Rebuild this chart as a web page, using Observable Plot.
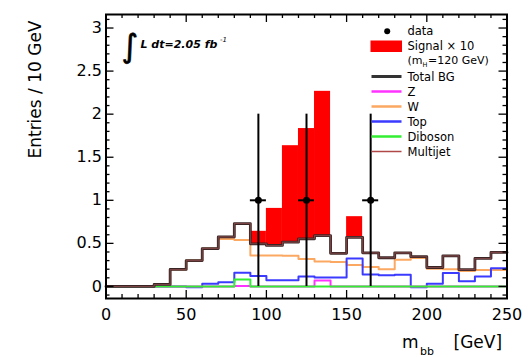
<!DOCTYPE html>
<html><head><meta charset="utf-8">
<script src="https://cdn.jsdelivr.net/npm/d3@7"></script>
<script src="https://cdn.jsdelivr.net/npm/@observablehq/plot@0.6"></script>
<style>html,body{margin:0;padding:0;background:#fff;} #chart{width:530px;height:357px;overflow:hidden;}</style>
</head><body><div id="chart"></div>
<script>
// ---- data (bins of 10 GeV, m_bb from 0 to 250) ----
const binLow   = [0,10,20,30,40,50,60,70,80,90,100,110,120,130,140,150,160,170,180,190,200,210,220,230,240];
const binWidth = 10;
const totalBG  = [0,0,0,0.023,0.197,0.30,0.44,0.575,0.73,0.495,0.476,0.514,0.553,0.59,0.385,0.57,0.39,0.333,0.39,0.345,0.22,0.355,0.195,0.325,0.395];
const multijet = [0,0,0,0.023,0.197,0.30,0.44,0.575,0.73,0.495,0.476,0.514,0.553,0.59,0.385,0.57,0.39,0.333,0.39,0.345,0.22,0.355,0.195,0.325,0.395];
const wBG      = [0,0,0,0.02,0.197,0.30,0.44,0.55,0.54,0.36,0.36,0.355,0.32,0.29,0.285,0.25,0.225,0.20,0.31,0.33,0.205,0.20,0.178,0.19,0.19];
const topBG    = [0,0,0,0,0,-0.01,0.03,0.05,0.16,0.12,0.072,0.072,0.116,0.105,0.105,0.325,0.14,0.13,0.135,-0.01,0.03,0.155,0.06,0.115,0.21];
const zBG      = [0,0,0,0,0,0,0,0,0.005,0,0,0,0,0.07,0,0,0,0,0,0,0,0,0,0,0];
const diboson  = [0,0,0,0,0,0,0,0,0.08,0,0,0,0,0,0,0,0,0,0,0,0,0,0,0,0];
const signalX10= [0,0,0,0,0,0,0,0,0,0.145,0.43,1.12,1.28,1.675,0,0.24,0,0,0,0,0,0,0,0,0];
const dataX    = [95,125,165];
const dataY    = [1,1,1];
const dataErr  = [1,1,1];
const xTickLabels = [0,50,100,150,200,250];
const yTickLabels = [0,0.5,1,1.5,2,2.5,3];

const legendItems = [
  {label:"Total BG", color:"#333333", w:3},
  {label:"Z",        color:"#ff33ff", w:2.5},
  {label:"W",        color:"#fba862", w:2.5},
  {label:"Top",      color:"#3b3bff", w:2.5},
  {label:"Diboson",  color:"#33ee33", w:2.5},
  {label:"Multijet", color:"#b04848", w:1.5}
];

// ---- geometry ----
const W = 530, H = 357;
const mL = 105.5, mR = 23.5, mT = 14, mB = 59;
const fW = W - mL - mR, fH = H - mT - mB;

function stepPts(vals){
  const p = binLow.map((x,i)=>({x, y: vals[i]}));
  p.push({x: binLow[binLow.length-1] + binWidth, y: vals[vals.length-1]});
  return p;
}
const sigRows = binLow.map((x,i)=>({x1:x, x2:x+binWidth, y1:totalBG[i], y2:totalBG[i]+signalX10[i], s:signalX10[i]})).filter(d=>d.s>0);
const dataRows = dataX.map((x,i)=>({x, y:dataY[i], lo:dataY[i]-dataErr[i], hi:dataY[i]+dataErr[i], xl:x-binWidth/2, xh:x+binWidth/2}));

const xMinor = d3.range(0, 251, 10);
const yMinor = d3.range(-1, 32).map(i=>i/10);

const T = (txt, o) => Plot.text([txt], Object.assign({text:d=>d, frameAnchor:"top-left", textAnchor:"start", fill:"black", fontSize:11.5}, o));
const swatch = (x0,x1,y0,y1,color) => Plot.frame({fill:color, stroke:"none", insetLeft:x0-mL, insetRight:(W-mR)-x1, insetTop:y0-mT, insetBottom:(H-mB)-y1});

const marks = [];
// signal (stacked on total background)
marks.push(Plot.rect(sigRows, {x1:"x1", x2:"x2", y1:"y1", y2:"y2", fill:"#ff0000"}));
// background components
marks.push(Plot.line(stepPts(wBG),    {x:"x", y:"y", curve:"step-after", stroke:"#fba862", strokeWidth:2}));
marks.push(Plot.line(stepPts(topBG),  {x:"x", y:"y", curve:"step-after", stroke:"#3b3bff", strokeWidth:2}));
marks.push(Plot.line(stepPts(zBG),    {x:"x", y:"y", curve:"step-after", stroke:"#ff33ff", strokeWidth:2}));
marks.push(Plot.line(stepPts(diboson),{x:"x", y:"y", curve:"step-after", stroke:"#33ee33", strokeWidth:2}));
marks.push(Plot.line(stepPts(totalBG),{x:"x", y:"y", curve:"step-after", stroke:"#3a2424", strokeWidth:2.8}));
marks.push(Plot.line(stepPts(multijet),{x:"x", y:"y", curve:"step-after", stroke:"#7a4444", strokeWidth:1.1}));
// data
marks.push(Plot.ruleX(dataRows, {x:"x", y1:"lo", y2:"hi", stroke:"black", strokeWidth:2}));
marks.push(Plot.ruleY(dataRows, {y:"y", x1:"xl", x2:"xh", stroke:"black", strokeWidth:2}));
marks.push(Plot.dot(dataRows, {x:"x", y:"y", r:3.5, fill:"black", stroke:"none"}));

// inward ticks (ROOT style) on all four sides
const majX = xMinor.filter(d=>d%50===0), minX = xMinor.filter(d=>d%50!==0);
const majY = yMinor.filter(d=>Math.abs(d*2-Math.round(d*2))<1e-9), minY = yMinor.filter(d=>Math.abs(d*2-Math.round(d*2))>1e-9);
marks.push(Plot.tickX(majX, {x:d=>d, insetTop:fH-8, stroke:"black", strokeWidth:1.3}));
marks.push(Plot.tickX(minX, {x:d=>d, insetTop:fH-4, stroke:"black", strokeWidth:1.3}));
marks.push(Plot.tickX(majX, {x:d=>d, insetBottom:fH-8, stroke:"black", strokeWidth:1.3}));
marks.push(Plot.tickX(minX, {x:d=>d, insetBottom:fH-4, stroke:"black", strokeWidth:1.3}));
marks.push(Plot.tickY(majY, {y:d=>d, insetRight:fW-8, stroke:"black", strokeWidth:1.3}));
marks.push(Plot.tickY(minY, {y:d=>d, insetRight:fW-4, stroke:"black", strokeWidth:1.3}));
marks.push(Plot.tickY(majY, {y:d=>d, insetLeft:fW-8, stroke:"black", strokeWidth:1.3}));
marks.push(Plot.tickY(minY, {y:d=>d, insetLeft:fW-4, stroke:"black", strokeWidth:1.3}));
marks.push(Plot.frame({stroke:"black", strokeWidth:2}));

// luminosity label
marks.push(T("\u222B", {dx:121-mL, dy:46-mT, fontSize:32, lineAnchor:"middle", stroke:"black", strokeWidth:0.6}));
marks.push(T("L dt=2.05 fb", {dx:140-mL, dy:44-mT, fontStyle:"italic", fontWeight:"bold", lineAnchor:"middle", fontSize:11}));
marks.push(T("-1", {dx:219.5-mL, dy:39.5-mT, fontStyle:"italic", lineAnchor:"middle", fontSize:7}));

// legend
marks.push(Plot.dot([0], {frameAnchor:"top-left", dx:386.7-mL, dy:30.7-mT, r:3, fill:"black", stroke:"none"}));
marks.push(T("data", {dx:407-mL, dy:31-mT, lineAnchor:"middle"}));
marks.push(swatch(370, 401.5, 40, 51.5, "#ff0000"));
marks.push(T("Signal \u00D7 10", {dx:407-mL, dy:45.5-mT, lineAnchor:"middle"}));
marks.push(T("(m", {dx:407-mL, dy:60-mT, lineAnchor:"middle", fontSize:11}));
marks.push(T("H", {dx:422-mL, dy:64-mT, lineAnchor:"middle", fontSize:6.5}));
marks.push(T("=120 GeV)", {dx:427.5-mL, dy:60-mT, lineAnchor:"middle", fontSize:11}));
legendItems.forEach((it, i) => {
  const cy = 76 + 15*i;
  marks.push(swatch(371, 401, cy - it.w/2, cy + it.w/2, it.color));
  marks.push(T(it.label, {dx:407-mL, dy:cy+0.5-mT, lineAnchor:"middle"}));
});

// axis titles
marks.push(Plot.text(["Entries / 10 GeV"], {text:d=>d, frameAnchor:"top-left", dx:35.5-mL, dy:20-mT, rotate:-90, textAnchor:"end", lineAnchor:"middle", fontSize:17, fill:"black"}));
marks.push(Plot.text(["m"], {text:d=>d, frameAnchor:"bottom-left", dx:401.5-mL, dy:342-(H-mB), textAnchor:"start", lineAnchor:"middle", fontSize:17, fill:"black"}));
marks.push(Plot.text(["bb"], {text:d=>d, frameAnchor:"bottom-left", dx:419.5-mL, dy:351-(H-mB), textAnchor:"start", lineAnchor:"middle", fontSize:11, fill:"black"}));
marks.push(Plot.text(["[GeV]"], {text:d=>d, frameAnchor:"bottom-left", dx:453-mL, dy:342-(H-mB), textAnchor:"start", lineAnchor:"middle", fontSize:17, fill:"black"}));

const chart = Plot.plot({
  width: W, height: H,
  marginLeft: mL, marginRight: mR, marginTop: mT, marginBottom: mB,
  x: {domain:[0,250], ticks:xTickLabels, tickSize:0, tickPadding:10, tickFormat:d=>String(d), label:null},
  y: {domain:[-0.14,3.157], ticks:yTickLabels, tickSize:0, tickPadding:4, tickFormat:d=>String(d), label:null},
  style: {fontFamily:"'DejaVu Sans', sans-serif", fontSize:"16px", background:"white", color:"black", overflow:"visible"},
  marks
});
document.getElementById("chart").appendChild(chart);
</script>
</body></html>
